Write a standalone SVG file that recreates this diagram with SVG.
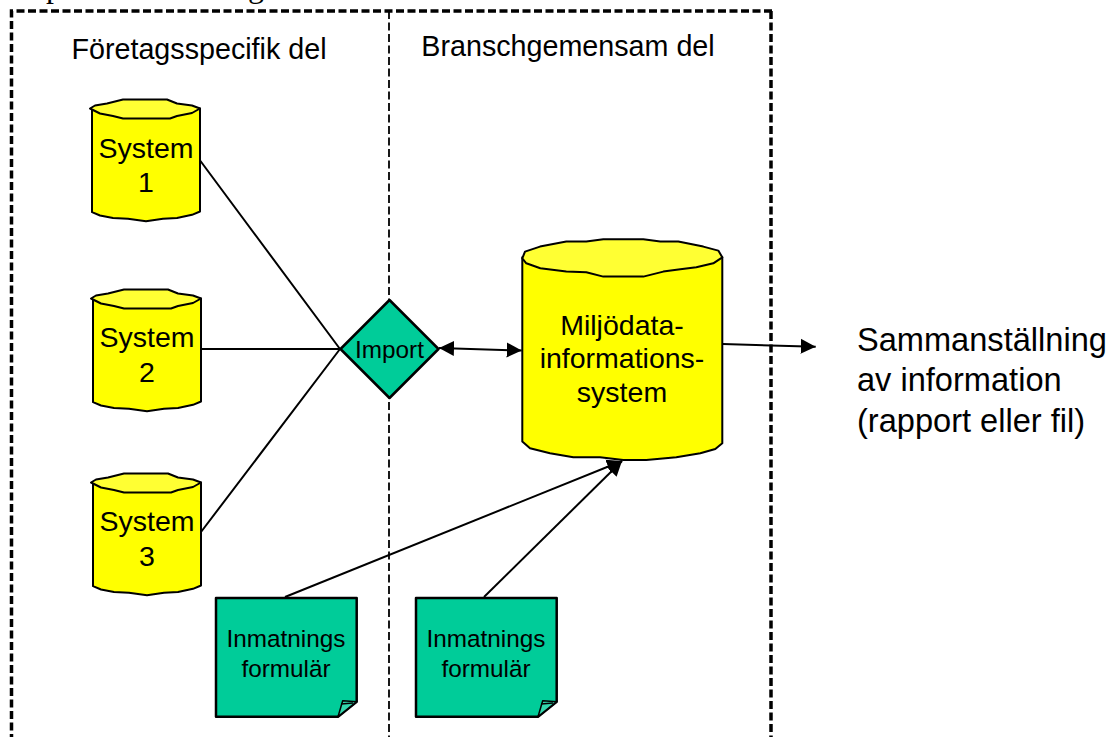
<svg xmlns="http://www.w3.org/2000/svg" xmlns:xlink="http://www.w3.org/1999/xlink" width="1111" height="737" viewBox="0 0 1111 737">
<style>
text{font-family:"Liberation Sans",Arial,sans-serif;fill:#000;text-anchor:middle}
.serif{font-family:"Liberation Serif",serif;font-size:32px;text-anchor:start}
.body{fill:#ff0;stroke:#000;stroke-width:2;stroke-linejoin:round}
.top{fill:#ff3;stroke:#000;stroke-width:2;stroke-linejoin:round}
.g{fill:#00cc99;stroke:#000;stroke-width:2.5;stroke-linejoin:round}
.fold{fill:#33d6ad;stroke:#000;stroke-width:1.5;stroke-linejoin:round}
.c{stroke:#000;stroke-width:2;fill:none}
.l{font-size:28.7px}
.s{font-size:28.5px}
.r{font-size:32.6px;text-anchor:start}
.n{font-size:24.3px}
</style>
<defs>
<marker id="a" markerUnits="userSpaceOnUse" markerWidth="16" markerHeight="16" refX="15" refY="8" orient="auto-start-reverse"><path d="M0 0.500L15 8L0 15.500z" fill="#000"/></marker>
<g id="cyl-s">
<path class="body" d="M0 0V103.700L8 107L21 109.500L36 110.300L54 112.700L71 110.300L85 109.500L100 106.300L108 103V0z"/>
<path class="top" d="M-2 0L3 -3L15 -5L31 -9L75 -9L85 -5L100 -3L108 0L100 4.500L85 7.500L78 10L31 10L21 7.500L8 5L0 1z"/>
</g>
<g id="cyl-l">
<path class="body" d="M0 0V184.300L7.700 191L27.700 196L51 200L77.700 200L101 202.700L124 202.700L154 200L178 196L193 191.700L200 186V0z"/>
<path class="top" d="M0 1L2.700 -5.700L17.700 -10.700L44 -15.700L64 -15.700L81 -18L121 -18L138 -15.700L156 -15.700L181 -10.700L196 -6.700L200 0L191 6L174 10L158 12L141 14.300L121 19.300L81 19.300L64 15L44 14.300L18 11L4 6z"/>
</g>
<g id="note">
<path class="g" d="M0 0H140.700V103.700L122 118.700H0z"/>
<path class="fold" d="M122 118.700L126.700 102.700L140.700 103.700z"/>
<path d="M125 106L137 105" stroke="#000" stroke-width="1.500" fill="none"/>
</g>
</defs>
<text class="serif" x="46" y="-3">p</text>
<text class="serif" x="248" y="-3">g</text>
<g id="frame" fill="none" stroke="#000">
<path d="M772 11H11.500V737" stroke-width="3.500" stroke-dasharray="8 3.500"/>
<path d="M771 11V737" stroke-width="3.500" stroke-dasharray="8 3.500"/>
<path d="M389 11V737" stroke-width="1.800" stroke-dasharray="8 3.500"/>
</g>
<g id="labels">
<text class="l" x="199" y="59">Företagsspecifik del</text>
<text class="l" x="568" y="56">Branschgemensam del</text>
<text class="r" x="857" y="351">Sammanställning</text>
<text class="r" x="857" y="391">av information</text>
<text class="r" x="857" y="432">(rapport eller fil)</text>
</g>
<g id="connectors">
<path class="c" d="M199 159L340 349M202 349H340M201 532L340 349"/>
<path class="c" d="M439 348L521.700 350.500" marker-start="url(#a)" marker-end="url(#a)"/>
<path class="c" d="M722.700 344L815.700 346.700" marker-end="url(#a)"/>
<path class="c" d="M285 597L622 461" marker-end="url(#a)"/>
<path class="c" d="M484 597L622 461" marker-end="url(#a)"/>
</g>
<g id="system1">
<use xlink:href="#cyl-s" href="#cyl-s" x="92" y="108.500"/>
<text class="s" x="146" y="158">System</text>
<text class="s" x="146" y="192">1</text>
</g>
<g id="system2">
<use xlink:href="#cyl-s" href="#cyl-s" x="93" y="298.500"/>
<text class="s" x="147" y="347">System</text>
<text class="s" x="147" y="382">2</text>
</g>
<g id="system3">
<use xlink:href="#cyl-s" href="#cyl-s" x="93" y="482.500"/>
<text class="s" x="147" y="531">System</text>
<text class="s" x="147" y="566">3</text>
</g>
<g id="miljo">
<use xlink:href="#cyl-l" href="#cyl-l" x="522.300" y="257.300"/>
<text class="s" x="622" y="335">Miljödata-</text>
<text class="s" x="622" y="368">informations-</text>
<text class="s" x="622" y="402">system</text>
</g>
<g id="import">
<path class="g" d="M389.500 300L438.500 349L389.500 398L340.500 349z"/>
<text class="n" x="389.500" y="358">Import</text>
</g>
<g id="form1">
<use xlink:href="#note" href="#note" x="216" y="598"/>
<text class="n" x="286" y="647">Inmatnings</text>
<text class="n" x="286" y="677">formulär</text>
</g>
<g id="form2">
<use xlink:href="#note" href="#note" x="416" y="598"/>
<text class="n" x="486" y="647">Inmatnings</text>
<text class="n" x="486" y="677">formulär</text>
</g>
</svg>
